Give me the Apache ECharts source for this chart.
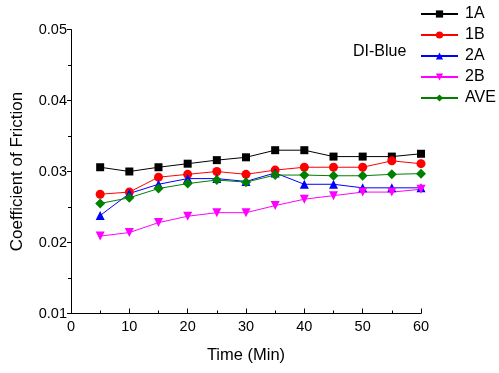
<!DOCTYPE html>
<html><head><meta charset="utf-8">
<script src="https://cdn.jsdelivr.net/npm/echarts@6/dist/echarts.min.js"></script>
<style>html,body{margin:0;padding:0;background:#fff}#c{width:499px;height:373px}</style>
</head><body><div id="c"></div>
<script>
const times = [5, 10, 15, 20, 25, 30, 35, 40, 45, 50, 55, 60];
const s1A = [0.0306, 0.0300, 0.0306, 0.0311, 0.0316, 0.0320, 0.0330, 0.0330, 0.0321, 0.0321, 0.0321, 0.0325];
const s1B = [0.0268, 0.0271, 0.0292, 0.0296, 0.0300, 0.0296, 0.0302, 0.0306, 0.0306, 0.0306, 0.0315, 0.0311];
const s2A = [0.0238, 0.0269, 0.0282, 0.0290, 0.0290, 0.0286, 0.0298, 0.0282, 0.0282, 0.0277, 0.0277, 0.0277];
const s2B = [0.0209, 0.0214, 0.0228, 0.0237, 0.0242, 0.0242, 0.0252, 0.0261, 0.0266, 0.0271, 0.0271, 0.0275];
const sAVE = [0.0255, 0.0263, 0.0276, 0.0283, 0.0288, 0.0285, 0.0295, 0.0295, 0.0294, 0.0294, 0.0296, 0.0297];
const seriesNames = ['1A', '1B', '2A', '2B', 'AVE'];
const yTicks = [0.01, 0.02, 0.03, 0.04, 0.05];
const xTicks = [0, 10, 20, 30, 40, 50, 60];

const font = 'Liberation Sans, Arial, sans-serif';
const pair = arr => times.map((t, i) => [t, arr[i]]);
const defs = [
  {name: '1A', data: s1A, color: '#000000', symbol: 'rect', size: 8, rot: 0},
  {name: '1B', data: s1B, color: '#ff0000', symbol: 'circle', size: 9, rot: 0},
  {name: '2A', data: s2A, color: '#0000ff', symbol: 'triangle', size: 9, rot: 0},
  {name: '2B', data: s2B, color: '#ff00ff', symbol: 'triangle', size: 9, rot: 180},
  {name: 'AVE', data: sAVE, color: '#008000', symbol: 'diamond', size: 10, rot: 0}
];
const chart = echarts.init(document.getElementById('c'), null, {renderer: 'canvas'});
chart.setOption({
  animation: false,
  backgroundColor: '#fff',
  grid: {left: 71, right: 78, top: 29.5, bottom: 59.5, containLabel: false},
  legend: {
    data: seriesNames, orient: 'vertical', left: 420, top: 6, padding: 0,
    itemWidth: 37, itemHeight: 9, itemGap: 5,
    textStyle: {fontFamily: font, fontSize: 16, color: '#000', lineHeight: 15, padding: [0,0,0,2]}
  },
  graphic: [{type: 'text', left: 353, top: 44, style: {text: 'DI-Blue', font: '16px ' + font, fill: '#000'}}],
  xAxis: {
    type: 'value', min: 0, max: 60, interval: 10,
    name: 'Time (Min)', nameLocation: 'middle', nameGap: 33,
    nameTextStyle: {fontFamily: font, fontSize: 16.5, color: '#000'},
    axisLine: {lineStyle: {color: '#000', width: 1}},
    axisTick: {inside: true, length: 5, lineStyle: {color: '#000'}},
    minorTick: {show: true, splitNumber: 2, length: 3, lineStyle: {color: '#000'}},
    axisLabel: {fontFamily: font, fontSize: 14.5, color: '#000', margin: 6},
    splitLine: {show: false}
  },
  yAxis: {
    type: 'value', min: 0.01, max: 0.05, interval: 0.01,
    name: 'Coefficient of Friction', nameLocation: 'middle', nameGap: 45,
    nameTextStyle: {fontFamily: font, fontSize: 17, color: '#000'},
    axisLine: {show: true, lineStyle: {color: '#000', width: 1}},
    axisTick: {show: true, inside: false, length: 4, lineStyle: {color: '#000'}},
    minorTick: {show: true, splitNumber: 2, length: 3, lineStyle: {color: '#000'}},
    axisLabel: {fontFamily: font, fontSize: 14.5, color: '#000', margin: 4, formatter: v => v.toFixed(2)},
    splitLine: {show: false}
  },
  series: defs.map(d => ({
    name: d.name, type: 'line', data: pair(d.data),
    symbol: d.symbol, symbolSize: d.size, symbolRotate: d.rot,
    showAllSymbol: true,
    lineStyle: {color: d.color, width: 1},
    itemStyle: {color: d.color, borderWidth: 0},
    emphasis: {disabled: true}
  }))
});
</script></body></html>
